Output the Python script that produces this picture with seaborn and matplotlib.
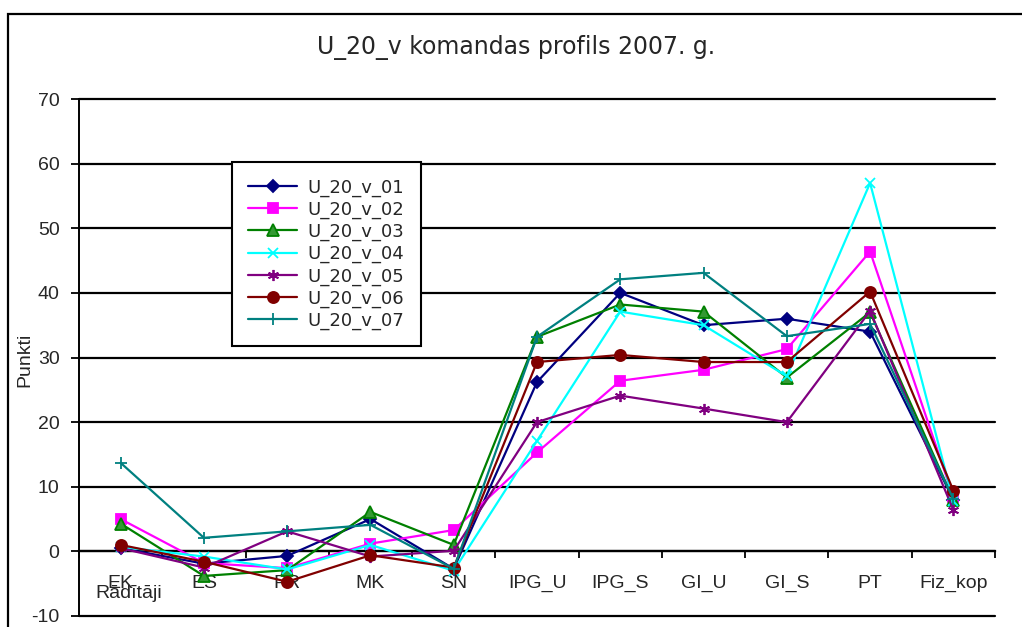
import pandas as pd
import seaborn as sns
import matplotlib.pyplot as plt
from matplotlib.patches import Rectangle
from matplotlib.ticker import FixedLocator

# data
categories = ['EK', 'ES', 'PR', 'MK', 'SN', 'IPG_U', 'IPG_S', 'GI_U', 'GI_S', 'PT', 'Fiz_kop']
u01 = [0.5, -1.9, -0.7, 5.0, -2.7, 26.2, 40.0, 35.0, 36.0, 34.0, 8.0]
u02 = [5.0, -1.8, -2.6, 1.2, 3.3, 15.3, 26.4, 28.1, 31.3, 46.4, 8.4]
u03 = [4.3, -3.8, -2.9, 6.1, 1.0, 33.2, 38.2, 37.1, 26.9, 37.0, 8.0]
u04 = [0.7, -0.8, -2.8, 1.0, -3.0, 17.1, 37.1, 35.0, 27.1, 57.0, 7.8]
u05 = [0.5, -2.5, 3.1, -0.8, 0.1, 20.0, 24.1, 22.1, 20.0, 37.2, 6.4]
u06 = [1.0, -1.6, -4.7, -0.6, -2.5, 29.3, 30.4, 29.3, 29.3, 40.2, 9.4]
u07 = [13.7, 2.1, 3.1, 4.1, -2.7, 33.2, 42.1, 43.1, 33.3, 35.2, 8.1]
series_names = ['U_20_v_01', 'U_20_v_02', 'U_20_v_03', 'U_20_v_04',
                'U_20_v_05', 'U_20_v_06', 'U_20_v_07']
yticks = [-10, 0, 10, 20, 30, 40, 50, 60, 70]

# line styles per series: color, marker, marker size, marker face
styles = [
    ('#000080', 'D', 6, '#000080'),
    ('#FF00FF', 's', 7, '#FF00FF'),
    ('#008000', '^', 8, '#339933'),
    ('#00FFFF', 'x', 7, '#00FFFF'),
    ('#800080', (6, 2, 0), 8, '#800080'),
    ('#800000', 'o', 8, '#800000'),
    ('#008080', '+', 9, '#008080'),
]

sns.set_style("white")
plt.rcParams['font.family'] = 'sans-serif'
plt.rcParams['font.sans-serif'] = ['Liberation Sans', 'DejaVu Sans']
plt.rcParams['axes.unicode_minus'] = False

fig = plt.figure(figsize=(10.22, 6.27), dpi=100)
ax = fig.add_axes([79 / 1022, 11 / 627, 916 / 1022, 517 / 627])

for name, vals, (col, mk, ms, face) in zip(series_names,
                                            [u01, u02, u03, u04, u05, u06, u07],
                                            styles):
    df = pd.DataFrame({'cat': categories, 'val': vals})
    sns.lineplot(data=df, x='cat', y='val', ax=ax, sort=False, color=col,
                 linewidth=1.6, marker=mk, markersize=ms,
                 markerfacecolor=face, markeredgecolor=col,
                 markeredgewidth=1.3, label=name, zorder=3)

ax.set_ylim(-10, 70)
ax.set_xlim(-0.5, len(categories) - 0.5)
ax.set_yticks(yticks)
for y in yticks:
    ax.axhline(y, color='black', lw=1.6, zorder=1, clip_on=False)

for s in ['top', 'right']:
    ax.spines[s].set_visible(False)
ax.spines['left'].set_color('black')
ax.spines['left'].set_linewidth(1.4)
ax.spines['bottom'].set_position(('data', 0))
ax.spines['bottom'].set_color('black')
ax.spines['bottom'].set_linewidth(1.6)

ax.xaxis.set_minor_locator(FixedLocator([i - 0.5 for i in range(len(categories) + 1)]))
ax.tick_params(axis='x', which='major', length=0, pad=17, labelsize=14)
ax.tick_params(axis='x', which='minor', length=5, width=1.3, direction='out',
               color='black', bottom=True)
ax.tick_params(axis='y', length=6, width=1.3, direction='out', color='black',
               left=True, pad=8, labelsize=14)

# axis titles sit where the reference puts them (x title overlaps "EK" there too)
ax.set_xlabel('Rādītāji', fontsize=14)
ax.xaxis.set_label_coords(0.054, 0.06)
ax.set_ylabel('Punkti', fontsize=14)
ax.yaxis.set_label_coords(-0.050, 0.496)

leg = ax.legend(loc='upper left', bbox_to_anchor=(0.167, 0.878),
                borderaxespad=0, fancybox=False, edgecolor='black',
                framealpha=1, handlelength=2.7, labelspacing=0.22,
                borderpad=0.9, handletextpad=0.6,
                prop={'family': 'DejaVu Sans', 'size': 13})
leg.get_frame().set_linewidth(1.5)

fig.text(516 / 1022, 1 - 47 / 627, 'U_20_v komandas profils 2007. g.',
         ha='center', va='center', fontsize=17, family='DejaVu Sans')

fig.add_artist(Rectangle((8 / 1022, -0.1), 1.2, 0.1 + (627 - 14) / 627,
                         transform=fig.transFigure, fill=False,
                         edgecolor='black', linewidth=1.6))

fig.savefig('out.png', dpi=100)
